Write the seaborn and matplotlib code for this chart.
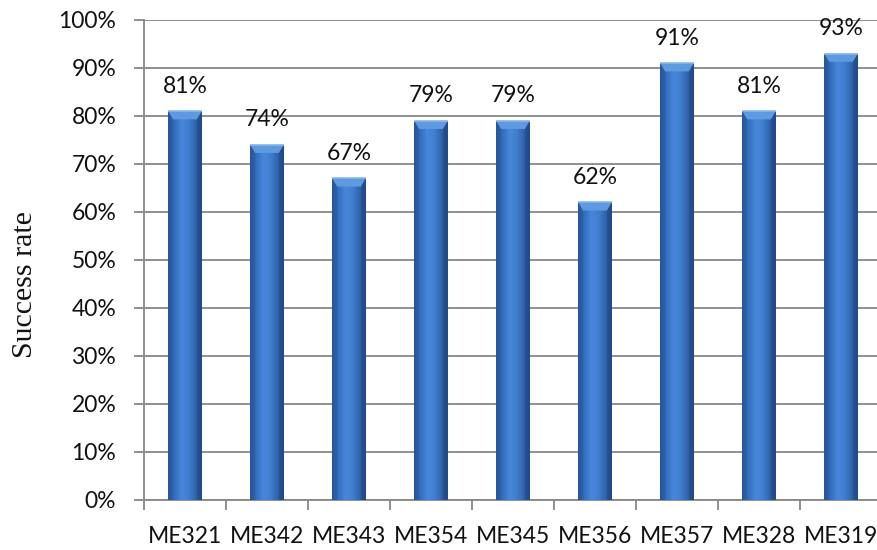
import numpy as np
import pandas as pd
import matplotlib
matplotlib.use("Agg")
import matplotlib.pyplot as plt
from matplotlib.colors import LinearSegmentedColormap
from matplotlib.patches import Polygon
from matplotlib.ticker import FixedLocator, PercentFormatter
import seaborn as sns

courses = ["ME321", "ME342", "ME343", "ME354", "ME345", "ME356", "ME357", "ME328", "ME319"]
success = [81, 74, 67, 79, 79, 62, 91, 81, 93]

df = pd.DataFrame({"course": courses, "success": success})

sns.set_theme(style="white")
plt.rcParams["font.family"] = ["Lato", "DejaVu Sans"]

fig = plt.figure(figsize=(8.77, 5.5), dpi=100)
ax = fig.add_axes([144 / 877, 50 / 550, 738 / 877, 480 / 550])

sns.barplot(data=df, x="course", y="success", color="#3a75c4", width=0.41,
            saturation=1, ax=ax, zorder=3, linewidth=0)

# horizontal shading across each bar: dark edges, bright middle
shade = LinearSegmentedColormap.from_list(
    "barshade", ["#2a5a9c", "#356fbf", "#4787da", "#417fd0", "#3266ae", "#244f8f"])
grad = np.linspace(0, 1, 256).reshape(1, -1)
for p in ax.patches:
    x0, w, h = p.get_x(), p.get_width(), p.get_height()
    im = ax.imshow(grad, cmap=shade, aspect="auto", extent=(x0, x0 + w, 0, h),
                   zorder=4, interpolation="bicubic")
    im.set_clip_path(p)
    # bevelled top cap
    bev = 1.7
    inset = 0.06
    top = Polygon([(x0, h), (x0 + w, h), (x0 + w - inset, h - bev), (x0 + inset, h - bev)],
                  closed=True, facecolor="#5f99e0", edgecolor="none", zorder=5)
    ax.add_patch(top)
    ax.plot([x0, x0 + w], [h, h], color="#8ab8ee", lw=1.2, zorder=6, solid_capstyle="butt")
    side_l = Polygon([(x0, h), (x0 + inset, h - bev), (x0 + inset, 0), (x0, 0)],
                     closed=True, facecolor="#1f4a88", alpha=0.25, edgecolor="none", zorder=5)
    side_r = Polygon([(x0 + w, h), (x0 + w - inset, h - bev), (x0 + w - inset, 0), (x0 + w, 0)],
                     closed=True, facecolor="#1a3f78", alpha=0.35, edgecolor="none", zorder=5)
    ax.add_patch(side_l)
    ax.add_patch(side_r)

# value labels above each bar
for i, v in enumerate(success):
    ax.text(i, v + 5.2, f"{v}%", ha="center", va="center", fontsize=16.5,
            color="#111111", zorder=6)

ax.set_xlim(-0.5, 8.5)
ax.set_ylim(0, 100)
ax.yaxis.set_major_locator(FixedLocator(np.arange(0, 101, 10)))
ax.yaxis.set_major_formatter(PercentFormatter(decimals=0))
ax.grid(axis="y", color="#878787", linewidth=1.3, zorder=0)
ax.set_axisbelow(True)

ax.xaxis.set_minor_locator(FixedLocator(np.arange(-0.5, 9, 1.0)))
ax.tick_params(axis="x", which="major", length=0, pad=19, labelsize=16.5, colors="#111111")
ax.tick_params(axis="x", which="minor", length=7, width=1.3, color="#878787", direction="out",
               bottom=True)
ax.tick_params(axis="y", which="major", length=7, width=1.3, color="#878787", direction="out",
               left=True, pad=13, labelsize=16.5, labelcolor="#111111")

for side in ["top", "right"]:
    ax.spines[side].set_visible(False)
for side in ["left", "bottom"]:
    ax.spines[side].set_color("#878787")
    ax.spines[side].set_linewidth(1.3)

ax.set_xlabel("")
ax.set_ylabel("")
fig.text(25 / 877, 1 - 285 / 550, "Success rate", rotation=90, ha="center", va="center",
         fontsize=21.5, family=["Liberation Serif", "DejaVu Serif"], color="#111111")

fig.savefig("out.png", dpi=100)
